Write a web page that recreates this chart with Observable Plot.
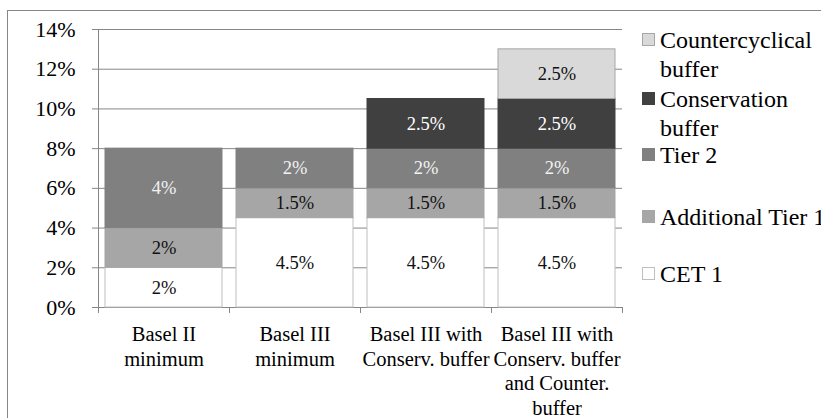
<!DOCTYPE html>
<html>
<head>
<meta charset="utf-8">
<script src="https://cdn.jsdelivr.net/npm/d3@7"></script>
<script src="https://cdn.jsdelivr.net/npm/@observablehq/plot@0.6"></script>
<style>
  body { margin: 0; background: #fff; }
  #chart { position: relative; width: 821px; height: 418px; overflow: hidden; }
  #chart svg { display: block; }
  #chart svg text { font-family: 'Liberation Serif', 'Times New Roman', Times, serif !important; }
</style>
</head>
<body>
<div id="chart"></div>
<script>
// ---- data ----
const categories = [
  "Basel II\nminimum",
  "Basel III\nminimum",
  "Basel III with\nConserv. buffer",
  "Basel III with\nConserv. buffer\nand Counter.\nbuffer"
];
const seriesNames = ["CET 1", "Additional Tier 1", "Tier 2", "Conservation buffer", "Countercyclical buffer"];
const cet1 = [2, 4.5, 4.5, 4.5];
const additionalTier1 = [2, 1.5, 1.5, 1.5];
const tier2 = [4, 2, 2, 2];
const conservationBuffer = [0, 0, 2.5, 2.5];
const countercyclicalBuffer = [0, 0, 0, 2.5];
const yTicks = [0, 2, 4, 6, 8, 10, 12, 14];
const legendLines = {
  "Countercyclical buffer": ["Countercyclical", "buffer"],
  "Conservation buffer": ["Conservation", "buffer"],
  "Tier 2": ["Tier 2"],
  "Additional Tier 1": ["Additional Tier 1"],
  "CET 1": ["CET 1"]
};

// ---- styles ----
const fillOf = {
  "CET 1": "#ffffff",
  "Additional Tier 1": "#a6a6a6",
  "Tier 2": "#808080",
  "Conservation buffer": "#404040",
  "Countercyclical buffer": "#d9d9d9"
};
const strokeOf = {
  "CET 1": "#bfbfbf",
  "Additional Tier 1": "#a6a6a6",
  "Tier 2": "#808080",
  "Conservation buffer": "#404040",
  "Countercyclical buffer": "#a6a6a6"
};
const textOf = {
  "CET 1": "#111111",
  "Additional Tier 1": "#111111",
  "Tier 2": "#f2f2f2",
  "Conservation buffer": "#ffffff",
  "Countercyclical buffer": "#111111"
};

const seriesValues = [cet1, additionalTier1, tier2, conservationBuffer, countercyclicalBuffer];
const table = [];
seriesNames.forEach((s, i) => {
  categories.forEach((c, j) => {
    const v = seriesValues[i][j];
    if (v > 0) table.push({category: c, series: s, value: v});
  });
});

const W = 821, H = 418;
const mL = 98, mR = W - 622, mT = 29, mB = H - 307;
const step = (W - mL - mR) / categories.length;
const grid = "#868686";
const serif = "'Liberation Serif','Times New Roman',Times,serif";

const chart = Plot.plot({
  width: W, height: H,
  marginLeft: mL, marginRight: mR, marginTop: mT, marginBottom: mB,
  style: {fontFamily: serif, background: "transparent", overflow: "visible"},
  x: {domain: categories, paddingInner: 0.107, paddingOuter: 0.0535, axis: null},
  y: {domain: [0, 14], axis: null},
  color: {type: "identity"},
  marks: [
    Plot.ruleY(yTicks, {stroke: grid, strokeWidth: 1}),
    Plot.axisY(yTicks, {tickSize: 6, tickPadding: 17, tickFormat: d => d + "%", fontSize: 22, fontFamily: serif, stroke: grid, fill: "#000", label: null}),
    Plot.ruleX([categories[0]], {dx: -step / 2, y1: 0, y2: 14, stroke: grid}),
    Plot.ruleX(categories, {dx: -step / 2, y1: 0, y2: -0.3, stroke: grid}),
    Plot.ruleX([categories[categories.length - 1]], {dx: step / 2, y1: 0, y2: -0.3, stroke: grid}),
    Plot.barY(table, {x: "category", y: "value", z: "series", fill: d => fillOf[d.series], stroke: d => strokeOf[d.series], strokeWidth: 1}),
    Plot.text(table, Plot.stackY({x: "category", y: "value", z: "series", text: d => d.value + "%", fill: d => textOf[d.series], fontSize: 18.5, fontFamily: serif})),
    Plot.text(categories, {x: d => d, y: 0, text: d => d, lineAnchor: "top", dy: 16, fontSize: 20.5, lineHeight: 1.2, fontFamily: serif, fill: "#000"})
  ]
});

document.getElementById("chart").appendChild(chart);

// outer border and legend
const svg = d3.select(chart);
svg.insert("rect", ":first-child")
  .attr("x", 7.5).attr("y", 10.5).attr("width", 900).attr("height", 900)
  .attr("fill", "none").attr("stroke", grid);

const legendOrder = seriesNames.slice().reverse();
const legendBaselines = [48, 107, 163, 225, 282];
const lg = svg.append("g").attr("font-family", serif).attr("font-size", 24).attr("text-anchor", "start").style("text-anchor", "start");
legendOrder.forEach((s, i) => {
  const b = legendBaselines[i];
  lg.append("rect")
    .attr("x", 642.5).attr("y", b - 14.5).attr("width", 12).attr("height", 12)
    .attr("fill", fillOf[s]).attr("stroke", strokeOf[s]);
  const t = lg.append("text").attr("x", 660).attr("y", b).attr("fill", "#000").attr("text-anchor", "start");
  legendLines[s].forEach((line, k) => {
    t.append("tspan").attr("x", 660).attr("dy", k === 0 ? 0 : 28.5).text(line);
  });
});
</script>
</body>
</html>
